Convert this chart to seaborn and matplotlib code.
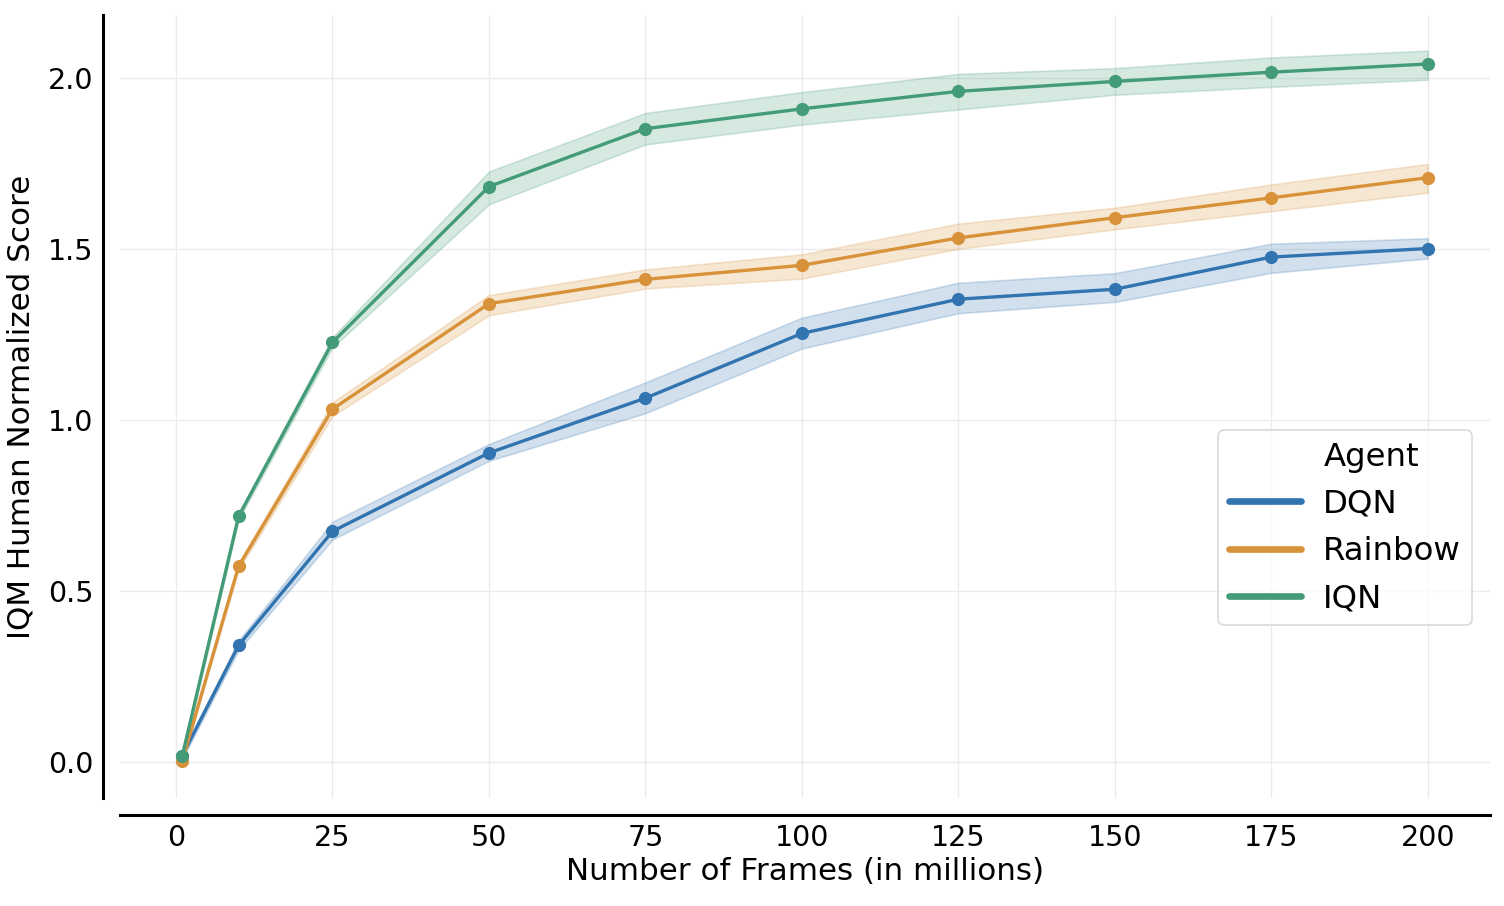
import numpy as np
import pandas as pd
import matplotlib
matplotlib.use("Agg")
import matplotlib.pyplot as plt
from matplotlib.lines import Line2D
import seaborn as sns

frames = [1, 10, 25, 50, 75, 100, 125, 150, 175, 200]
agents = ["DQN", "Rainbow", "IQN"]

dqn_mean = [0.02, 0.342, 0.675, 0.904, 1.064, 1.253, 1.353, 1.382, 1.476, 1.501]
dqn_low = [0.01, 0.328, 0.651, 0.881, 1.020, 1.209, 1.312, 1.345, 1.430, 1.472]
dqn_high = [0.03, 0.356, 0.703, 0.930, 1.110, 1.299, 1.401, 1.429, 1.515, 1.531]

rainbow_mean = [0.005, 0.573, 1.032, 1.340, 1.411, 1.452, 1.532, 1.591, 1.649, 1.708]
rainbow_low = [0.0, 0.563, 1.012, 1.306, 1.384, 1.413, 1.500, 1.557, 1.610, 1.664]
rainbow_high = [0.012, 0.583, 1.052, 1.365, 1.440, 1.484, 1.574, 1.620, 1.688, 1.748]

iqn_mean = [0.0195, 0.719, 1.227, 1.682, 1.851, 1.909, 1.960, 1.989, 2.016, 2.040]
iqn_low = [0.01, 0.709, 1.212, 1.630, 1.805, 1.863, 1.907, 1.950, 1.973, 1.994]
iqn_high = [0.03, 0.729, 1.242, 1.726, 1.897, 1.958, 2.011, 2.028, 2.059, 2.079]

colors = ["#3274b0", "#d8923a", "#449b77"]

means = [dqn_mean, rainbow_mean, iqn_mean]
lows = [dqn_low, rainbow_low, iqn_low]
highs = [dqn_high, rainbow_high, iqn_high]

df = pd.DataFrame({
    "Frames": frames * 3,
    "Score": dqn_mean + rainbow_mean + iqn_mean,
    "Agent": sum([[a] * len(frames) for a in agents], []),
})

sns.set_theme(style="white")
plt.rcParams["font.family"] = ["DejaVu Sans"]
plt.rcParams["text.color"] = "black"
plt.rcParams["axes.labelcolor"] = "black"

fig = plt.figure(figsize=(15.04, 9.06), dpi=100)
ax = fig.add_axes([0.0798, 0.1192, 0.9109, 0.8642])

for i, a in enumerate(agents):
    ax.fill_between(frames, lows[i], highs[i], color=colors[i], alpha=0.22, linewidth=1.2)

sns.lineplot(data=df, x="Frames", y="Score", hue="Agent", palette=colors,
             marker="o", markersize=9.5, markeredgewidth=0, linewidth=2.4,
             ax=ax, legend=False)

ax.grid(True, color="#ebebeb", linewidth=1.0)
ax.set_axisbelow(True)
ax.set_xticks([0, 25, 50, 75, 100, 125, 150, 175, 200])
ax.set_yticks([0.0, 0.5, 1.0, 1.5, 2.0])
ax.set_yticklabels(["0.0", "0.5", "1.0", "1.5", "2.0"])
ax.tick_params(axis="both", length=0, labelsize=20.5, colors="black", pad=7)
ax.set_xlabel("Number of Frames (in millions)", fontsize=22.3, labelpad=3, color="black")
ax.set_ylabel("IQM Human Normalized Score", fontsize=22.3, labelpad=9, color="black")

sns.despine(ax=ax, offset=12)
for s in ["left", "bottom"]:
    ax.spines[s].set_color("black")
    ax.spines[s].set_linewidth(2.2)

handles = [Line2D([], [], color="none")] + [Line2D([], [], color=c, linewidth=4.8) for c in colors]
labels = ["Agent"] + agents
leg = ax.legend(handles, labels, loc="center right", bbox_to_anchor=(0.999, 0.345),
                fontsize=23.3, frameon=True, handlelength=2.2, borderpad=0.35,
                labelspacing=0.5, handletextpad=0.7)
for t in leg.get_texts():
    t.set_color("black")
leg.get_frame().set_edgecolor("#d0d0d0")
leg.get_frame().set_linewidth(1.2)

fig.savefig("out.png", dpi=100)
